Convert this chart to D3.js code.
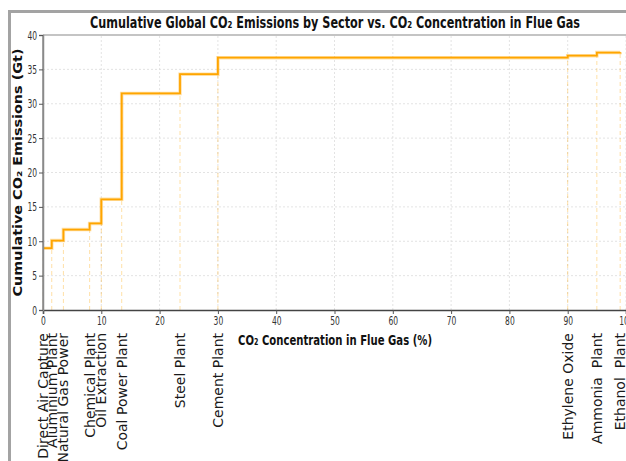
<!DOCTYPE html>
<html>
<head>
<meta charset="utf-8">
<script src="https://cdn.jsdelivr.net/npm/d3@7"></script>
<style>
  body { margin: 0; background: #fff; }
  svg text { font-family: "DejaVu Sans", sans-serif; }
</style>
</head>
<body>
<svg id="chart" width="626" height="461"></svg>
<script>
// sectors sorted by CO2 concentration in flue gas
const sectors = ['Direct Air Capture', 'Aluminium Plant', 'Natural Gas Power', 'Chemical Plant',
  'Oil Extraction', 'Coal Power Plant', 'Steel Plant', 'Cement Plant',
  'Ethylene Oxide', 'Ammonia  Plant', 'Ethanol  Plant'];
const concentration = [0.04, 1.5, 3.5, 8, 10, 13.5, 23.5, 30, 90, 95, 99];
const cumulative = [9.0, 10.1, 11.7, 12.6, 16.1, 31.5, 34.3, 36.7, 37.0, 37.45, 37.5];
const xTicks = [0, 10, 20, 30, 40, 50, 60, 70, 80, 90, 100];
const yTicks = [0, 5, 10, 15, 20, 25, 30, 35, 40];

const svg = d3.select('#chart');
const margin = { left: 43, top: 35, right: 626, bottom: 310 };

const x = d3.scaleLinear().domain([0, 100]).range([margin.left, margin.right]);
const y = d3.scaleLinear().domain([0, 40]).range([margin.bottom, margin.top]);

// figure frame
svg.append('rect')
  .attr('x', 9.5).attr('y', 11.5)
  .attr('width', 700).attr('height', 500)
  .attr('fill', 'none')
  .attr('stroke', '#a3a3a3')
  .attr('stroke-width', 3);

// grid
const grid = svg.append('g');
grid.selectAll('.gx').data(xTicks.filter(d => d > 0))
  .join('line')
  .attr('x1', d => x(d)).attr('x2', d => x(d))
  .attr('y1', y(0)).attr('y2', y(40))
  .attr('stroke', '#dcdcdc').attr('stroke-width', 0.8)
  .attr('stroke-dasharray', '2,2');
grid.selectAll('.gy').data(yTicks.filter(d => d > 0 && d < 40))
  .join('line')
  .attr('x1', x(0)).attr('x2', x(100))
  .attr('y1', d => y(d)).attr('y2', d => y(d))
  .attr('stroke', '#dcdcdc').attr('stroke-width', 0.8)
  .attr('stroke-dasharray', '2,2');

// dashed markers at each sector
svg.append('g').selectAll('line')
  .data(concentration)
  .join('line')
  .attr('x1', d => x(d)).attr('x2', d => x(d))
  .attr('y1', y(0)).attr('y2', (d, i) => y(cumulative[i]))
  .attr('stroke', '#ffa500').attr('stroke-opacity', 0.35)
  .attr('stroke-width', 1)
  .attr('stroke-dasharray', '4,3');

// step line
const pts = concentration.map((c, i) => [c, cumulative[i]]);
const line = d3.line().x(d => x(d[0])).y(d => y(d[1])).curve(d3.curveStepAfter);
svg.append('path')
  .datum(pts)
  .attr('d', line)
  .attr('fill', 'none')
  .attr('stroke', '#ffa500')
  .attr('stroke-opacity', 0.35)
  .attr('stroke-width', 3.5);
svg.append('path')
  .datum(pts)
  .attr('d', line)
  .attr('fill', 'none')
  .attr('stroke', '#ffa500')
  .attr('stroke-width', 1.8);

// spines
svg.append('line')
  .attr('x1', x(0)).attr('x2', x(100)).attr('y1', y(40)).attr('y2', y(40))
  .attr('stroke', '#b0b0b0').attr('stroke-width', 1.5);
svg.append('line')
  .attr('x1', x(0)).attr('x2', x(0)).attr('y1', y(0)).attr('y2', y(40))
  .attr('stroke', '#8a8a8a').attr('stroke-width', 1.5);

// axes
const xAxis = svg.append('g')
  .attr('transform', `translate(0,${y(0)})`)
  .call(d3.axisBottom(x).tickValues(xTicks).tickSize(4).tickPadding(2));
const yAxis = svg.append('g')
  .attr('transform', `translate(${x(0)},0)`)
  .call(d3.axisLeft(y).tickValues(yTicks).tickSize(4).tickPadding(2));

xAxis.select('.domain').attr('stroke', '#444').attr('stroke-width', 1.6);
yAxis.select('.domain').attr('stroke', '#8a8a8a').attr('stroke-width', 1.5);
[xAxis, yAxis].forEach(ax => {
  ax.selectAll('.tick line').attr('stroke', '#555');
  ax.selectAll('.tick text')
    .attr('fill', '#333')
    .style('font-size', '12.5px')
    .attr('textLength', function() { return this.textContent.length * 4.8; })
    .attr('lengthAdjust', 'spacingAndGlyphs');
});

// sector labels below the axis
svg.append('g').selectAll('text')
  .data(sectors)
  .join('text')
  .attr('transform', (d, i) => `translate(${x(concentration[i]) + 5},333) rotate(-90)`)
  .attr('text-anchor', 'end')
  .style('font-size', '14px')
  .style('white-space', 'pre')
  .attr('fill', '#1a1a1a')
  .text(d => d);

// titles
svg.append('text')
  .attr('x', 335).attr('y', 28)
  .attr('text-anchor', 'middle')
  .attr('textLength', 490).attr('lengthAdjust', 'spacingAndGlyphs')
  .style('font-size', '15.5px').style('font-weight', 'bold')
  .attr('fill', '#111')
  .text('Cumulative Global CO₂ Emissions by Sector vs. CO₂ Concentration in Flue Gas');

svg.append('text')
  .attr('x', 335).attr('y', 345)
  .attr('text-anchor', 'middle')
  .attr('textLength', 194).attr('lengthAdjust', 'spacingAndGlyphs')
  .style('font-size', '14px').style('font-weight', 'bold')
  .attr('fill', '#111')
  .text('CO₂ Concentration in Flue Gas (%)');

svg.append('text')
  .attr('transform', `translate(22,${(y(0) + y(40)) / 2}) rotate(-90)`)
  .attr('text-anchor', 'middle')
  .attr('textLength', 248).attr('lengthAdjust', 'spacingAndGlyphs')
  .style('font-size', '13px').style('font-weight', 'bold')
  .attr('fill', '#111')
  .text('Cumulative CO₂ Emissions (Gt)');
</script>
</body>
</html>
